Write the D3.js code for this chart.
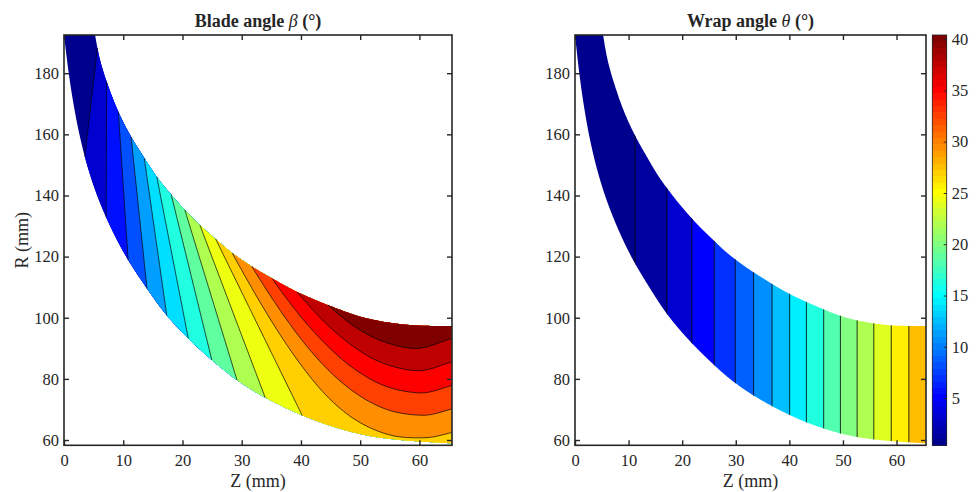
<!DOCTYPE html>
<html><head><meta charset="utf-8">
<script src="https://cdn.jsdelivr.net/npm/d3@7"></script>
<style>
body{margin:0;background:#fff}
svg{display:block;background:#fff}
text{font-family:"Liberation Serif","Times New Roman",serif;fill:#262626}
</style>
</head><body>
<svg id="chart" width="976" height="492"></svg>
<script>
// ---------------- data ----------------
const zTicks = [0, 10, 20, 30, 40, 50, 60];
const rTicks = [60, 80, 100, 120, 140, 160, 180];
const cbTicks = [5, 10, 15, 20, 25, 30, 35, 40];
const zRange = [0, 65.5];
const rRange = [58.27, 192.5];
const colorLimits = [0.4, 40.4];

// meridional channel walls (Z, R in mm)
const hubZ = [0.0, 0.8, 1.6, 2.6, 3.9, 5.6, 7.8, 10.5, 14.0, 17.35, 21.0, 24.95, 29.2, 33.95, 40.15, 45.5, 51.1, 56.8, 65.5];
const hubR = [192.5, 180, 170, 160, 150, 140, 130, 120, 109.6, 100.8, 93.2, 86.2, 79.6, 73.9, 68.1, 64.3, 61.5, 60.0, 58.9];
const shroudZ = [5.25, 6.0, 7.21, 9.17, 11.15, 13.4, 15.66, 17.9, 20.15, 22.97, 25.5, 28.4, 31.7, 35.1, 39.3, 44.6, 51.1, 58.4, 65.5];
const shroudR = [192.5, 185, 177.2, 167.4, 159.8, 152.7, 146.1, 140.7, 135.8, 130.3, 125.95, 121.2, 116.8, 112.9, 108.5, 104.1, 99.8, 97.6, 97.3];

// blade angle contour levels (deg)
const betaLevels = [3.07, 5.73, 8.40, 11.07, 13.73, 16.40, 19.07, 21.73, 24.40, 27.07, 29.73, 32.40, 35.07, 37.73, 40.40];
// blade angle along the hub wall
const hubBetaZ = [0.0, 3.8, 7.5, 10.6, 14.0, 17.35, 21.0, 24.95, 29.2, 33.95, 40.15, 45.5, 51.1, 57.0, 61.4, 65.5];
const hubBetaR = [192.5, 152.7, 133.0, 118.9, 109.6, 100.8, 93.2, 86.2, 79.6, 73.9, 68.1, 64.3, 61.5, 60.0, 59.4, 58.9];
const hubBeta  = [0.4, 3.07, 5.73, 8.40, 11.07, 13.73, 16.40, 19.07, 21.73, 24.40, 27.07, 28.0, 28.9, 29.4, 29.2, 28.5];
// blade angle along the shroud wall
const shroudBetaZ = [5.25, 5.4, 6.93, 9.2, 11.3, 13.4, 15.66, 17.9, 20.3, 22.8, 25.5, 28.3, 31.5, 35.1, 39.3, 44.6, 51.1, 58.4, 65.5];
const shroudBetaR = [192.5, 188.2, 177.2, 167.4, 159.2, 152.2, 146.1, 140.1, 135.2, 130.3, 125.7, 121.2, 116.6, 112.9, 108.5, 104.1, 99.8, 97.6, 97.3];
const shroudBeta  = [2.2, 3.07, 5.73, 8.40, 11.07, 13.73, 16.40, 19.07, 21.73, 24.40, 27.07, 29.73, 32.40, 35.07, 37.73, 40.40, 42.4, 43.2, 41.8];
const stationCount = 11; // first samples of hub/shroud are wall crossings of the same contour lines

// wrap angle along Z (deg)
const thetaZ   = [0, 11.21, 17.14, 21.81, 25.98, 29.91, 33.33, 36.77, 40.06, 43.18, 46.41, 49.53, 52.65, 55.76, 59.01, 62.30, 65.5];
const thetaVal = [0, 1.10, 2.98, 4.85, 6.73, 8.60, 10.48, 12.35, 14.23, 16.10, 17.98, 19.85, 21.73, 23.60, 25.48, 27.35, 29.1];
const thetaLevels = [1.10, 2.98, 4.85, 6.73, 8.60, 10.48, 12.35, 14.23, 16.10, 17.98, 19.85, 21.73, 23.60, 25.48, 27.35];

// ---------------- drawing ----------------
const svg = d3.select('#chart');
const Y0 = 35, Y1 = 445.3;
const y = d3.scaleLinear().domain(rRange).range([Y1, Y0]);
const xL = d3.scaleLinear().domain(zRange).range([64, 452]);
const xR = d3.scaleLinear().domain(zRange).range([575, 926]);
const cbY = d3.scaleLinear().domain(colorLimits).range([Y1, Y0]);
const INK = '#262626';

function jet64(i) {
  const u = [];
  for (let k = 1; k <= 16; k++) u.push(k / 16);
  for (let k = 0; k < 15; k++) u.push(1);
  for (let k = 16; k >= 1; k--) u.push(k / 16);
  const I = i + 1; let r = 0, g = 0, b = 0;
  if (I >= 9 && I <= 55) g = u[I - 9];
  if (I >= 25) r = u[I - 25];
  if (I <= 39) b = u[I + 7];
  return d3.rgb(Math.round(r * 255), Math.round(g * 255), Math.round(b * 255)).formatHex();
}
function colorFor(v) {
  let i = Math.floor((v - colorLimits[0]) / (colorLimits[1] - colorLimits[0]) * 64);
  return jet64(Math.max(0, Math.min(63, i)));
}

function makeCurve(zs, rs) {
  const line = d3.line().curve(d3.curveCatmullRom.alpha(0.5));
  const p = svg.append('path').attr('d', line(zs.map((z, i) => [z, rs[i]]))).attr('fill', 'none').attr('stroke', 'none');
  const node = p.node();
  const L = node.getTotalLength();
  const N = 1500, pts = [];
  for (let i = 0; i <= N; i++) { const q = node.getPointAtLength(L * i / N); pts.push([q.x, q.y]); }
  p.remove();
  pts[0] = [zs[0], rs[0]]; pts[N] = [zs[zs.length - 1], rs[rs.length - 1]];
  return {
    pts, L,
    at(l) {
      const f = Math.max(0, Math.min(N, l / L * N)); const i = Math.min(N - 1, Math.floor(f)); const t = f - i;
      return [pts[i][0] + (pts[i + 1][0] - pts[i][0]) * t, pts[i][1] + (pts[i + 1][1] - pts[i][1]) * t];
    },
    project(z, r) {
      let best = 0, bd = Infinity;
      pts.forEach((q, i) => { const d = (q[0] - z) ** 2 + (q[1] - r) ** 2; if (d < bd) { bd = d; best = i; } });
      return L * best / N;
    }
  };
}
const hub = makeCurve(hubZ, hubR);
const shroud = makeCurve(shroudZ, shroudR);

function steffen(xs, ys) {
  const n = xs.length, h = [], d = [], m = new Array(n);
  for (let i = 0; i < n - 1; i++) { h[i] = xs[i + 1] - xs[i]; d[i] = (ys[i + 1] - ys[i]) / h[i]; }
  m[0] = d[0]; m[n - 1] = d[n - 2];
  for (let i = 1; i < n - 1; i++) {
    const p = (d[i - 1] * h[i] + d[i] * h[i - 1]) / (h[i - 1] + h[i]);
    m[i] = (Math.sign(d[i - 1]) + Math.sign(d[i])) * Math.min(Math.abs(d[i - 1]), Math.abs(d[i]), 0.5 * Math.abs(p));
  }
  return x => {
    let i = d3.bisectRight(xs, x) - 1; i = Math.max(0, Math.min(n - 2, i));
    const t = (x - xs[i]) / h[i], t2 = t * t, t3 = t2 * t;
    return (2 * t3 - 3 * t2 + 1) * ys[i] + (t3 - 2 * t2 + t) * h[i] * m[i] + (-2 * t3 + 3 * t2) * ys[i + 1] + (t3 - t2) * h[i] * m[i + 1];
  };
}
const hubS = hubBetaZ.map((z, i) => hub.project(z, hubBetaR[i])); hubS[0] = 0; hubS[hubS.length - 1] = hub.L;
const shroudS = shroudBetaZ.map((z, i) => shroud.project(z, shroudBetaR[i])); shroudS[0] = 0; shroudS[shroudS.length - 1] = shroud.L;
const betaHub = steffen(hubS, hubBeta);
const betaShroud = steffen(shroudS, shroudBeta);

// quasi-orthogonal stations
const stH = hubS.slice(0, stationCount).concat([hub.L]);
const stS = shroudS.slice(0, stationCount).concat([shroud.L]);
const stU = stH.map((s, i) => (s + stS[i]) / (hub.L + shroud.L));
function station(u) {
  let k = d3.bisectRight(stU, u) - 1; k = Math.max(0, Math.min(stU.length - 2, k));
  const t = (u - stU[k]) / (stU[k + 1] - stU[k]);
  return [stH[k] + (stH[k + 1] - stH[k]) * t, stS[k] + (stS[k + 1] - stS[k]) * t];
}
const NU = 360, NV = 90, dx = NU + 1, dy = NV + 1;
const values = new Float64Array(dx * dy);
for (let i = 0; i < dx; i++) {
  const [sh, ss] = station(i / NU);
  const bh = betaHub(sh), bs = betaShroud(ss);
  for (let j = 0; j < dy; j++) { const v = j / NV; values[j * dx + i] = bh * (1 - v) + bs * v; }
}
const geoms = d3.contours().size([dx, dy]).thresholds(betaLevels)(values);

function mapGrid(gx, gy, xs) {
  const u = Math.max(0, Math.min(1, (gx - 0.5) / NU)), v = Math.max(0, Math.min(1, (gy - 0.5) / NV));
  const [sh, ss] = station(u); const a = hub.at(sh), b = shroud.at(ss);
  return [xs(a[0] + (b[0] - a[0]) * v), y(a[1] + (b[1] - a[1]) * v)];
}
function regionPath(xs) {
  const pts = hub.pts.concat(shroud.pts.slice().reverse());
  return 'M' + pts.map(p => xs(p[0]).toFixed(2) + ',' + y(p[1]).toFixed(2)).join('L') + 'Z';
}

// clip paths
const defs = svg.append('defs');
defs.append('clipPath').attr('id', 'clipL').append('rect').attr('x', 64).attr('y', Y0).attr('width', 388).attr('height', Y1 - Y0);
defs.append('clipPath').attr('id', 'regR').append('path').attr('d', regionPath(xR));

// ---- left panel: blade angle ----
const gL = svg.append('g').attr('clip-path', 'url(#clipL)');
gL.append('path').attr('d', regionPath(xL)).attr('fill', colorFor(hubBeta[0]));
geoms.forEach((gm, k) => {
  let d = '';
  gm.coordinates.forEach(poly => poly.forEach(ring => {
    d += 'M' + ring.map(p => mapGrid(p[0], p[1], xL).map(c => c.toFixed(2)).join(',')).join('L') + 'Z';
  }));
  gL.append('path').attr('d', d).attr('fill', colorFor(betaLevels[k])).attr('fill-rule', 'evenodd');
});
const isBorder = p => p[0] <= 0 || p[0] >= dx || p[1] <= 0 || p[1] >= dy;
geoms.forEach(gm => {
  let d = '';
  gm.coordinates.forEach(poly => poly.forEach(ring => {
    const pts = ring.slice(0, -1); const n = pts.length;
    let start = pts.findIndex(isBorder);
    if (start < 0) { d += 'M' + pts.map(p => mapGrid(p[0], p[1], xL).join(',')).join('L') + 'Z'; return; }
    let run = [];
    for (let c = 1; c <= n; c++) {
      const p = pts[(start + c) % n];
      if (isBorder(p)) { if (run.length > 1) d += 'M' + run.join('L'); run = []; }
      else run.push(mapGrid(p[0], p[1], xL).map(v => v.toFixed(2)).join(','));
    }
    if (run.length > 1) d += 'M' + run.join('L');
  }));
  gL.append('path').attr('d', d).attr('fill', 'none').attr('stroke', '#000').attr('stroke-width', 0.7);
});

// ---- right panel: wrap angle ----
const zAtTheta = d3.scaleLinear().domain(thetaVal).range(thetaZ);
const cuts = [zRange[0]].concat(thetaLevels.map(zAtTheta), [zRange[1]]);
const lowers = [thetaVal[0]].concat(thetaLevels);
const gR = svg.append('g').attr('clip-path', 'url(#regR)');
lowers.forEach((lv, j) => {
  gR.append('rect').attr('x', xR(cuts[j])).attr('y', Y0).attr('width', xR(cuts[j + 1]) - xR(cuts[j]) + (j < lowers.length - 1 ? 0.6 : 0))
    .attr('height', Y1 - Y0).attr('fill', colorFor(lv));
});
thetaLevels.forEach(lv => {
  const px = xR(zAtTheta(lv));
  gR.append('line').attr('x1', px).attr('x2', px).attr('y1', Y0).attr('y2', Y1).attr('stroke', '#000').attr('stroke-width', 0.8);
});

// ---- axes ----
function axes(xs, x0, x1, title, greek, showY) {
  const fs = 16.5;
  const gb = svg.append('g').attr('transform', `translate(0,${Y1})`)
    .call(d3.axisBottom(xs).tickValues(zTicks).tickSizeInner(-5).tickSizeOuter(0).tickPadding(9));
  const gt = svg.append('g').attr('transform', `translate(0,${Y0})`)
    .call(d3.axisTop(xs).tickValues(zTicks).tickSizeInner(-5).tickSizeOuter(0).tickFormat(''));
  const gl = svg.append('g').attr('transform', `translate(${x0},0)`)
    .call(d3.axisLeft(y).tickValues(rTicks).tickSizeInner(-5).tickSizeOuter(0).tickPadding(5));
  const gr = svg.append('g').attr('transform', `translate(${x1},0)`)
    .call(d3.axisRight(y).tickValues(rTicks).tickSizeInner(-5).tickSizeOuter(0).tickFormat(''));
  [gb, gt, gl, gr].forEach(g => {
    g.attr('color', INK).attr('font-size', fs).attr('font-family', '"Liberation Serif","Times New Roman",serif');
    g.select('.domain').remove();
    g.selectAll('.tick line').attr('stroke-width', 1.4);
    g.selectAll('text').attr('fill', INK);
  });
  svg.append('rect').attr('x', x0).attr('y', Y0).attr('width', x1 - x0).attr('height', Y1 - Y0)
    .attr('fill', 'none').attr('stroke', INK).attr('stroke-width', 1.6);
  const cx = (x0 + x1) / 2;
  const t = svg.append('text').attr('x', cx).attr('y', 27).attr('text-anchor', 'middle').attr('font-size', 18).attr('font-weight', 'bold');
  t.append('tspan').text(title + ' ');
  t.append('tspan').attr('font-style', 'italic').attr('font-weight', 'normal').text(greek);
  t.append('tspan').text(' (°)');
  svg.append('text').attr('x', cx).attr('y', 487).attr('text-anchor', 'middle').attr('font-size', 18).text('Z (mm)');
  if (showY) svg.append('text').attr('transform', `translate(28,${(Y0 + Y1) / 2}) rotate(-90)`)
    .attr('text-anchor', 'middle').attr('font-size', 18).text('R (mm)');
}
axes(xL, 64, 452, 'Blade angle', 'β', true);
axes(xR, 575, 926, 'Wrap angle', 'θ', false);

// ---- colorbar ----
const cbX0 = 932.3, cbX1 = 946.7;
const cb = svg.append('g');
d3.range(64).forEach(i => {
  const v0 = colorLimits[0] + i * (colorLimits[1] - colorLimits[0]) / 64;
  const v1 = colorLimits[0] + (i + 1) * (colorLimits[1] - colorLimits[0]) / 64;
  cb.append('rect').attr('x', cbX0).attr('y', cbY(v1)).attr('width', cbX1 - cbX0).attr('height', cbY(v0) - cbY(v1) + 0.4)
    .attr('fill', jet64(i)).attr('shape-rendering', 'crispEdges');
});
cb.append('rect').attr('x', cbX0).attr('y', Y0).attr('width', cbX1 - cbX0).attr('height', Y1 - Y0)
  .attr('fill', 'none').attr('stroke', INK).attr('stroke-width', 0.8);
const gcb = svg.append('g').attr('transform', `translate(${cbX1},0)`)
  .call(d3.axisRight(cbY).tickValues(cbTicks).tickSizeInner(-3).tickSizeOuter(0).tickPadding(5));
gcb.attr('color', INK).attr('font-size', 16.5).attr('font-family', '"Liberation Serif","Times New Roman",serif');
gcb.select('.domain').remove();
gcb.selectAll('text').attr('fill', INK);
</script>
</body></html>
